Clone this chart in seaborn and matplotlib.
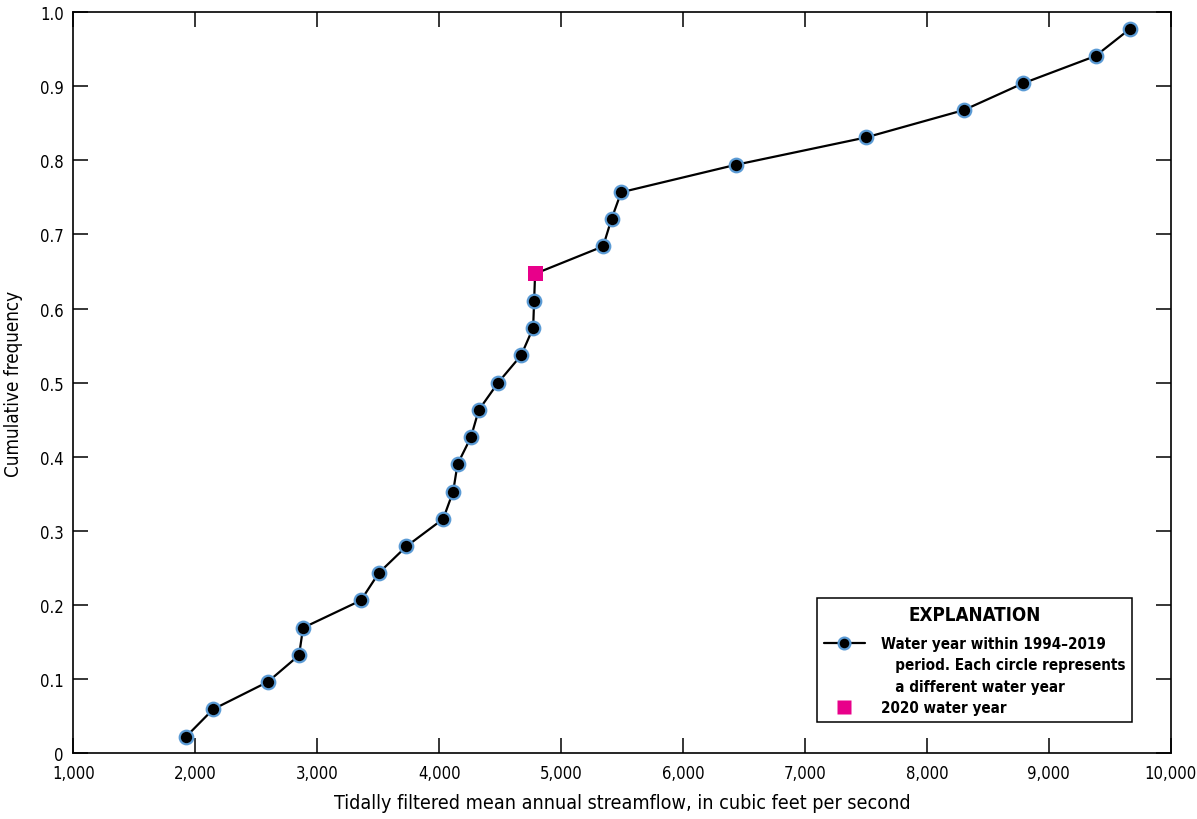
import matplotlib
matplotlib.use("Agg")
import matplotlib.pyplot as plt
from matplotlib.lines import Line2D
from matplotlib.ticker import FixedLocator, FuncFormatter
import seaborn as sns
import pandas as pd

# Tidally filtered mean annual streamflow (ft3/s) and cumulative frequency, water years 1994-2019
flow_1994_2019 = [1924, 2146, 2595, 2851, 2884, 3358, 3505, 3732, 4033, 4115, 4151, 4260, 4325,
                  4484, 4673, 4771, 4779, 5345, 5414, 5493, 6431, 7500, 8304, 8788, 9384, 9669]
freq_1994_2019 = [0.022, 0.059, 0.096, 0.132, 0.169, 0.206, 0.243, 0.279, 0.316, 0.353, 0.390,
                  0.426, 0.463, 0.500, 0.537, 0.574, 0.610, 0.684, 0.721, 0.757, 0.794, 0.831,
                  0.868, 0.904, 0.941, 0.978]
# 2020 water year
flow_2020 = [4787]
freq_2020 = [0.647]

x_ticks = [1000, 2000, 3000, 4000, 5000, 6000, 7000, 8000, 9000, 10000]
y_ticks = [0, 0.1, 0.2, 0.3, 0.4, 0.5, 0.6, 0.7, 0.8, 0.9, 1.0]

sns.set_theme(style="ticks")
plt.rcParams["font.family"] = ["DejaVu Sans"]
plt.rcParams["font.stretch"] = "condensed"
for key in ("text.color", "axes.labelcolor", "xtick.color", "ytick.color", "axes.edgecolor"):
    plt.rcParams[key] = "black"

past = pd.DataFrame({"flow": flow_1994_2019, "freq": freq_1994_2019})
current = pd.DataFrame({"flow": flow_2020, "freq": freq_2020})
curve = pd.concat([past, current]).sort_values("freq").reset_index(drop=True)

fig = plt.figure(figsize=(11.97, 8.20), dpi=100)
ax = fig.add_axes([0.0613, 0.0805, 0.9167, 0.9033])

sns.lineplot(data=curve, x="flow", y="freq", ax=ax, color="black", linewidth=1.6,
             sort=False, estimator=None, zorder=2)
sns.scatterplot(data=past, x="flow", y="freq", ax=ax, color="black", edgecolor="#5b9bd5",
                linewidth=1.6, s=95, zorder=3)
sns.scatterplot(data=current, x="flow", y="freq", ax=ax, color="#e8008a", edgecolor="none",
                marker="s", s=115, zorder=4)

ax.set_xlim(1000, 10000)
ax.set_ylim(0, 1.0)
ax.xaxis.set_major_locator(FixedLocator(x_ticks))
ax.yaxis.set_major_locator(FixedLocator(y_ticks))
ax.xaxis.set_major_formatter(FuncFormatter(lambda v, p: f"{int(v):,}"))
ax.yaxis.set_major_formatter(FuncFormatter(lambda v, p: "0" if v == 0 else f"{v:.1f}"))
ax.tick_params(direction="in", length=11, width=1.1, labelsize=12,
               top=True, right=True)
ax.tick_params(axis="x", pad=8)
ax.tick_params(axis="y", pad=7)
for s in ax.spines.values():
    s.set_visible(True)
    s.set_linewidth(1.2)

ax.set_xlabel("Tidally filtered mean annual streamflow, in cubic feet per second",
              fontsize=14.1, labelpad=8)
ax.set_ylabel("Cumulative frequency", fontsize=13.5, labelpad=12)

handles = [
    Line2D([0], [0], color="black", lw=1.6, marker="o", markersize=8.5,
           markerfacecolor="black", markeredgecolor="#5b9bd5", markeredgewidth=1.6),
    Line2D([], [], linestyle="none"),
    Line2D([], [], linestyle="none"),
    Line2D([0], [0], linestyle="none", marker="s", markersize=10,
           markerfacecolor="#e8008a", markeredgecolor="none"),
]
labels = [
    "Water year within 1994\u20132019",
    "   period. Each circle represents",
    "   a different water year",
    "2020 water year",
]
leg = ax.legend(handles, labels, title="EXPLANATION", loc="lower right",
                bbox_to_anchor=(0.9647, 0.0419), frameon=True, fancybox=False,
                edgecolor="black", framealpha=1, borderpad=0.45, labelspacing=0.42,
                handlelength=2.7, handletextpad=1.05, borderaxespad=0,
                prop={"size": 10.9, "weight": "bold", "stretch": "condensed"})
leg.get_frame().set_linewidth(1.1)
leg.get_title().set_fontsize(13.5)
leg.get_title().set_fontweight("bold")
# more room between the title and the entries
leg._legend_box.sep = 9

fig.savefig("out.png", dpi=100)
